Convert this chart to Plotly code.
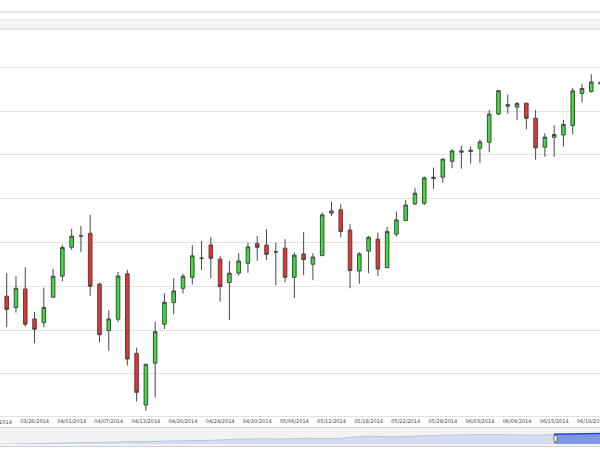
import plotly.graph_objects as go
import pandas as pd

# ---------------- data ----------------
dates = ["03/20/2014", "03/21/2014", "03/24/2014", "03/25/2014", "03/26/2014", "03/27/2014",
         "03/28/2014", "03/31/2014", "04/01/2014", "04/02/2014", "04/03/2014", "04/04/2014",
         "04/07/2014", "04/08/2014", "04/09/2014", "04/10/2014", "04/13/2014", "04/15/2014",
         "04/16/2014", "04/17/2014", "04/20/2014", "04/21/2014", "04/22/2014", "04/23/2014",
         "04/24/2014", "04/25/2014", "04/28/2014", "04/29/2014", "04/30/2014", "05/01/2014",
         "05/02/2014", "05/05/2014", "05/06/2014", "05/07/2014", "05/08/2014", "05/09/2014",
         "05/12/2014", "05/13/2014", "05/14/2014", "05/15/2014", "05/18/2014", "05/19/2014",
         "05/20/2014", "05/21/2014", "05/22/2014", "05/23/2014", "05/26/2014", "05/27/2014",
         "05/28/2014", "05/29/2014", "05/30/2014", "06/02/2014", "06/03/2014", "06/04/2014",
         "06/05/2014", "06/06/2014", "06/09/2014", "06/10/2014", "06/11/2014", "06/12/2014",
         "06/15/2014", "06/16/2014", "06/17/2014", "06/18/2014", "06/19/2014", "06/20/2014"]

opens = [None,
         1865.5, 1860.3, 1868.8, 1855.1, 1853.4, 1865.0, 1874.6, 1887.8, 1893.0, 1894.2,
         1871.0, 1849.8, 1855.0, 1875.7, 1839.4, 1815.8, 1834.9, 1852.7, 1862.5, 1869.1,
         1874.1, 1882.8, 1888.9, 1882.4, 1871.7, 1876.0, 1880.5, 1889.5, 1888.8, 1885.6,
         1887.4, 1874.1, 1884.8, 1880.1, 1884.0, 1903.4, 1904.9, 1895.7, 1877.0, 1886.1,
         1891.5, 1878.5, 1893.8, 1900.0, 1907.6, 1907.9, 1919.8, 1919.8, 1927.1, 1931.2,
         1931.5, 1933.0, 1935.8, 1948.6, 1952.2, 1951.8, 1953.6, 1946.7, 1933.5, 1938.0,
         1939.1, 1943.4, 1958.0, 1958.9, 1962.4]

highs = [None,
         1876.0, 1874.6, 1878.7, 1858.4, 1869.4, 1877.9, 1888.9, 1896.2, 1897.6, 1902.6,
         1871.7, 1859.1, 1876.6, 1877.5, 1842.0, 1834.4, 1853.9, 1866.8, 1873.7, 1875.7,
         1888.8, 1890.7, 1892.4, 1883.9, 1881.6, 1885.1, 1889.9, 1893.0, 1896.1, 1889.9,
         1891.5, 1885.4, 1894.7, 1885.1, 1903.6, 1908.7, 1907.5, 1898.5, 1885.6, 1893.0,
         1894.5, 1897.2, 1904.1, 1909.4, 1914.8, 1920.1, 1924.2, 1928.1, 1932.6, 1934.2,
         1933.8, 1937.1, 1950.5, 1959.6, 1957.5, 1954.2, 1953.6, 1950.5, 1939.9, 1943.5,
         1945.9, 1960.6, 1962.4, 1966.8, 1964.2]

lows = [None,
        1851.3, 1858.0, 1851.6, 1844.0, 1851.3, 1865.0, 1872.3, 1886.6, 1885.6, 1865.7,
        1844.5, 1840.6, 1853.7, 1833.8, 1817.4, 1813.2, 1819.2, 1850.5, 1857.3, 1866.7,
        1870.8, 1877.5, 1873.7, 1863.0, 1854.7, 1874.9, 1876.2, 1881.6, 1882.0, 1870.5,
        1871.9, 1864.6, 1875.1, 1872.8, 1884.0, 1902.1, 1892.4, 1869.1, 1871.2, 1876.0,
        1874.7, 1878.3, 1892.7, 1900.0, 1907.1, 1907.0, 1914.5, 1917.3, 1923.9, 1923.7,
        1926.0, 1926.2, 1931.2, 1948.2, 1948.8, 1945.8, 1941.7, 1927.8, 1929.1, 1929.2,
        1933.8, 1939.4, 1953.9, 1958.4, 1961.5]

closes = [None,
          1859.5, 1869.1, 1852.7, 1850.4, 1860.4, 1874.6, 1887.7, 1892.9, 1893.0, 1870.0,
          1847.9, 1855.1, 1874.7, 1836.8, 1821.6, 1834.4, 1849.3, 1862.7, 1867.9, 1874.6,
          1883.9, 1882.8, 1882.8, 1869.9, 1876.0, 1881.6, 1888.0, 1887.8, 1884.6, 1885.8,
          1874.1, 1884.2, 1882.2, 1883.4, 1902.6, 1904.4, 1895.0, 1877.2, 1884.8, 1892.4,
          1877.9, 1895.0, 1900.3, 1907.1, 1912.5, 1919.5, 1919.2, 1928.1, 1931.8, 1931.8,
          1932.1, 1935.9, 1948.6, 1959.3, 1952.9, 1953.4, 1946.7, 1933.2, 1938.1, 1939.3,
          1943.9, 1959.2, 1960.3, 1963.3, 1963.1]

# navigator (full history, monthly)
nav_dates = [d.strftime("%Y-%m-%d") for d in pd.date_range("2011-03-01", periods=39, freq="MS")
             + pd.DateOffset(days=20)] + ["2014-06-20"]
nav_values = [1143, 1169, 1189, 1208, 1228, 1247, 1273, 1299, 1306, 1319,
              1338, 1358, 1351, 1358, 1410, 1462, 1488, 1507, 1488, 1514,
              1533, 1507, 1514, 1631, 1670, 1644, 1637, 1683, 1715, 1754,
              1767, 1774, 1780, 1774, 1741, 1728, 1800, 1813, 1826, 1845]
selection_start = "2014-03-21"

# ---------------- figure ----------------
W, H = 600, 450
X_RANGE = [0.278, 64.94]


def py(p):
    return (H - p) / H


x_pos = list(range(len(dates)))
tick_idx = x_pos[::4]
tick_font = dict(family="DejaVu Sans", size=5, color="#444")

fig = go.Figure()
fig.add_trace(go.Candlestick(
    x=x_pos, open=opens, high=highs, low=lows, close=closes,
    increasing=dict(fillcolor="#3ade3a", line=dict(color="#474747", width=1)),
    decreasing=dict(fillcolor="#ee3030", line=dict(color="#474747", width=1)),
    whiskerwidth=0, xaxis="x", yaxis="y", showlegend=False, hoverinfo="skip"))

sel_i = nav_dates.index(selection_start) if selection_start in nav_dates else 36
fig.add_trace(go.Scatter(
    x=nav_dates, y=nav_values, mode="lines", fill="tozeroy",
    fillcolor="#d6dbee", line=dict(color="#bcc5e4", width=1),
    xaxis="x2", yaxis="y2", showlegend=False, hoverinfo="skip"))
fig.add_trace(go.Scatter(
    x=nav_dates[sel_i:], y=nav_values[sel_i:], mode="lines", fill="tozeroy",
    fillcolor="#7f98e2", line=dict(color="#2447d4", width=1.5),
    xaxis="x2", yaxis="y2", showlegend=False, hoverinfo="skip"))

handle_x0 = pd.Timestamp(nav_dates[sel_i])
shapes = [
    dict(type="line", xref="paper", yref="paper", x0=0, x1=1, y0=py(12), y1=py(12),
         line=dict(color="#c8c8c8", width=1)),
    dict(type="rect", xref="paper", yref="paper", x0=0, x1=1, y0=py(29), y1=py(20),
         fillcolor="#f6f6f6", line=dict(width=0), layer="below"),
    dict(type="line", xref="paper", yref="paper", x0=0, x1=1, y0=py(20), y1=py(20),
         line=dict(color="#dcdcdc", width=1)),
    dict(type="line", xref="paper", yref="paper", x0=0, x1=1, y0=py(29), y1=py(29),
         line=dict(color="#d6d6d6", width=1)),
    dict(type="rect", xref="paper", yref="paper", x0=0, x1=1, y0=py(446), y1=py(427.5),
         fillcolor="#f3f3f3", line=dict(width=0), layer="below"),
    dict(type="line", xref="paper", yref="paper", x0=0, x1=1, y0=py(427.5), y1=py(427.5),
         line=dict(color="#d2d2d2", width=1)),
    dict(type="line", xref="paper", yref="paper", x0=0, x1=1, y0=py(446.5), y1=py(446.5),
         line=dict(color="#cfcfcf", width=1)),
    dict(type="rect", xref="x2", yref="paper",
         x0=handle_x0.strftime("%Y-%m-%d"),
         x1=(handle_x0 + pd.Timedelta(days=6)).strftime("%Y-%m-%d"),
         y0=py(441.5), y1=py(435.5),
         fillcolor="#f4f4f4", line=dict(color="#777777", width=1)),
]

# the first date label sits just left of the visible window (only its tail shows)
first_label_x = (tick_idx[0] - X_RANGE[0]) / (X_RANGE[1] - X_RANGE[0])
annotations = [dict(xref="paper", yref="paper", x=first_label_x, y=py(421.5),
                    text=dates[tick_idx[0]], showarrow=False, xanchor="center",
                    yanchor="middle", font=tick_font)]

fig.update_layout(
    width=W, height=H,
    margin=dict(l=0, r=0, t=0, b=0, autoexpand=False),
    paper_bgcolor="white", plot_bgcolor="white",
    boxgap=0.45,
    shapes=shapes,
    annotations=annotations,
    xaxis=dict(domain=[0, 1], anchor="y", range=X_RANGE, automargin=False,
               tickmode="array", tickvals=tick_idx, ticktext=[dates[i] for i in tick_idx],
               tickfont=tick_font,
               ticklabeloverflow="allow",
               showgrid=False, zeroline=False, showline=True, linecolor="#e2e2e2",
               ticks="", rangeslider=dict(visible=False)),
    yaxis=dict(domain=[py(416), py(30)], anchor="x", range=[1810.8, 1987.0],
               automargin=False,
               showticklabels=False, tick0=1830, dtick=20, gridcolor="#e4e4e4",
               zeroline=False, ticks=""),
    xaxis2=dict(domain=[0, 1], anchor="y2", type="date", automargin=False,
                range=[nav_dates[0], nav_dates[-1]],
                showticklabels=False, showgrid=False, zeroline=False, ticks=""),
    yaxis2=dict(domain=[py(444), py(430)], anchor="x2", range=[1162.5, 2072.5],
                automargin=False, visible=False),
)

fig.write_html("out.html",
               config={"displayModeBar": False, "staticPlot": True},
               post_script="document.body.style.margin='0';document.body.style.overflow='hidden';")
